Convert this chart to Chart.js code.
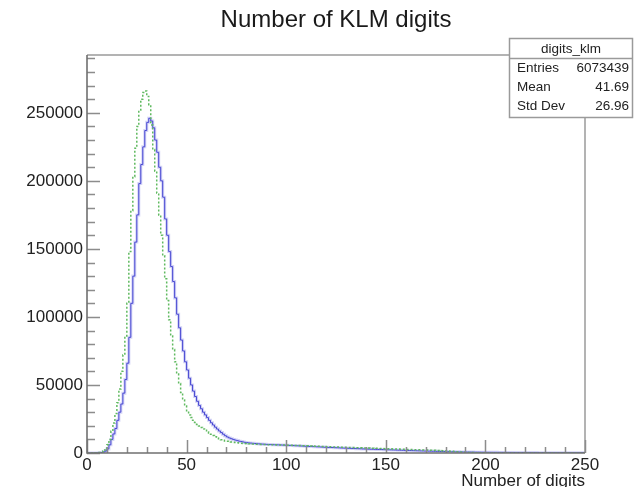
<!DOCTYPE html>
<html>
<head>
<meta charset="utf-8">
<script src="https://cdn.jsdelivr.net/npm/chart.js@4.4.1/dist/chart.umd.min.js"></script>
<style>
  html, body { margin: 0; padding: 0; background: #ffffff; }
  #wrap { width: 640px; height: 487px; }
</style>
</head>
<body>
<div id="wrap"><canvas id="c" width="640" height="487"></canvas></div>
<script>
// ---- Data ----
const binLow = 0;
const binWidth = 1;
const xMin = 0, xMax = 250;
const yMin = 0, yMax = 292500;
const xTickValues = [0, 50, 100, 150, 200, 250];
const yTickValues = [0, 50000, 100000, 150000, 200000, 250000];

const titleText = "Number of KLM digits";
const xAxisTitle = "Number of digits";
const statsName = "digits_klm";
const statsLabels = ["Entries", "Mean", "Std Dev"];
const statsValues = ["6073439", "41.69", "26.96"];

// blue solid histogram (digits_klm), one value per bin
const blueCounts = [
  0, 0, 0, 0, 0, 50, 150, 300, 700, 1500,
  3000, 6000, 10000, 14000, 18000, 24000, 30000, 36000, 44000, 54000,
  66000, 85000, 110000, 130000, 155000, 175000, 198000, 212000, 225000, 237000,
  243000, 246000, 244000, 239000, 230000, 221000, 210000, 200000, 188000, 172000,
  160000, 148000, 137000, 126000, 114000, 102000, 92000, 83000, 75000, 67000,
  61000, 55000, 50000, 45500, 41500, 38000, 35000, 32500, 30000, 28000,
  26000, 24000, 22200, 20600, 19000, 17600, 16200, 15000, 13800, 12700,
  11800, 11100, 10500, 10000, 9500, 9100, 8700, 8400, 8100, 7800,
  7600, 7400, 7250, 7100, 6950, 6800, 6700, 6600, 6500, 6400,
  6300, 6250, 6200, 6100, 6050, 6000, 5950, 5900, 5800, 5750,
  5700, 5600, 5550, 5450, 5400, 5300, 5250, 5150, 5100, 5000,
  4950, 4850, 4800, 4700, 4650, 4550, 4500, 4400, 4350, 4250,
  4200, 4100, 4050, 4000, 3900, 3850, 3800, 3700, 3650, 3600,
  3500, 3450, 3400, 3350, 3250, 3200, 3150, 3100, 3000, 2950,
  2900, 2850, 2800, 2750, 2700, 2650, 2600, 2550, 2500, 2450,
  2400, 2350, 2300, 2250, 2200, 2150, 2100, 2050, 2000, 1950,
  1900, 1850, 1800, 1750, 1700, 1650, 1600, 1550, 1500, 1450,
  1400, 1380, 1340, 1300, 1260, 1220, 1180, 1140, 1100, 1060,
  1020, 990, 960, 930, 900, 870, 840, 810, 780, 750,
  720, 700, 680, 660, 640, 620, 600, 580, 560, 540,
  520, 500, 490, 480, 470, 460, 450, 440, 430, 420,
  410, 400, 390, 380, 370, 360, 350, 340, 330, 320,
  310, 300, 295, 290, 285, 280, 275, 270, 265, 260,
  255, 250, 245, 240, 235, 230, 225, 220, 215, 210,
  205, 200, 195, 190, 185, 180, 175, 170, 165, 160
];

// green dotted histogram, one value per bin
const greenCounts = [
  0, 0, 0, 0, 50, 150, 300, 700, 1500, 3000,
  6000, 10000, 16000, 22000, 29000, 37000, 47000, 60000, 72000, 86000,
  110000, 148000, 178000, 203000, 224000, 240000, 252000, 260000, 265000, 266000,
  262000, 256000, 241000, 223000, 207000, 191000, 175000, 160000, 145000, 128000,
  112000, 98000, 86000, 76000, 67000, 58000, 51000, 44500, 39000, 34500,
  31000, 28000, 26000, 24000, 22500, 21000, 19800, 18700, 17700, 16700,
  15700, 14700, 13700, 12800, 11900, 11100, 10400, 9800, 9300, 8900,
  8600, 8300, 8100, 7900, 7700, 7500, 7350, 7200, 7050, 6950,
  6850, 6750, 6650, 6550, 6450, 6400, 6350, 6300, 6250, 6200,
  6150, 6100, 6050, 6000, 5980, 5950, 5920, 5880, 5850, 5800,
  5750, 5700, 5650, 5600, 5550, 5500, 5450, 5400, 5350, 5300,
  5250, 5200, 5150, 5100, 5000, 4950, 4900, 4850, 4800, 4700,
  4650, 4600, 4550, 4500, 4450, 4400, 4350, 4300, 4250, 4200,
  4150, 4100, 4050, 4000, 3950, 3900, 3850, 3800, 3750, 3700,
  3650, 3600, 3550, 3500, 3450, 3400, 3350, 3300, 3250, 3200,
  3150, 3100, 3050, 3000, 2950, 2900, 2850, 2800, 2750, 2700,
  2650, 2600, 2550, 2500, 2450, 2400, 2350, 2300, 2250, 2200,
  2150, 2100, 2050, 2000, 1950, 1900, 1850, 1800, 1700, 1600,
  1500, 1400, 1300, 1200, 1100, 1000, 900, 800, 700, 600,
  500, 450, 400, 350, 300, 250, 200, 150, 120, 100,
  80, 60, 50, 40, 35, 30, 25, 20, 20, 15,
  15, 10, 10, 10, 10, 5, 5, 5, 5, 5,
  5, 0, 0, 0, 0, 0, 0, 0, 0, 0,
  0, 0, 0, 0, 0, 0, 0, 0, 0, 0,
  0, 0, 0, 0, 0, 0, 0, 0, 0, 0
];

// ---- Build step points from bins ----
function toSteps(counts) {
  const pts = counts.map((v, i) => ({ x: binLow + i * binWidth, y: v }));
  pts.push({ x: binLow + counts.length * binWidth, y: counts[counts.length - 1] });
  return pts;
}

const FONT = "'Liberation Sans', Arial, Helvetica, sans-serif";

const decorPlugin = {
  id: 'decor',
  afterDraw(chart) {
    const { ctx, chartArea: a, scales } = chart;
    const xs = scales.x, ys = scales.y;
    ctx.save();
    // frame top & right
    ctx.strokeStyle = '#9a9a9a';
    ctx.lineWidth = 1.5;
    ctx.beginPath();
    ctx.moveTo(a.left, a.top); ctx.lineTo(a.right, a.top); ctx.lineTo(a.right, a.bottom);
    ctx.stroke();
    // ticks (inside)
    ctx.strokeStyle = '#8c8c8c';
    ctx.lineWidth = 1.5;
    ctx.beginPath();
    for (let v = xMin; v <= xMax; v += 10) {
      const px = Math.round(xs.getPixelForValue(v)) + 0.5;
      const len = (v % 50 === 0) ? 13 : 6;
      ctx.moveTo(px, a.bottom); ctx.lineTo(px, a.bottom - len);
    }
    for (let v = yMin; v <= yMax; v += 10000) {
      const py = Math.round(ys.getPixelForValue(v)) + 0.5;
      const len = (v % 50000 === 0) ? 13 : 8;
      ctx.moveTo(a.left, py); ctx.lineTo(a.left + len, py);
    }
    ctx.stroke();
    // axis lines
    ctx.strokeStyle = '#707070';
    ctx.lineWidth = 1.6;
    ctx.beginPath();
    ctx.moveTo(a.left, a.top); ctx.lineTo(a.left, a.bottom); ctx.lineTo(a.right, a.bottom);
    ctx.stroke();

    // title
    ctx.fillStyle = '#1a1a1a';
    ctx.font = '24px ' + FONT;
    ctx.textAlign = 'center';
    ctx.textBaseline = 'alphabetic';
    ctx.fillText(titleText, (a.left + a.right) / 2, 27);

    // x axis title
    ctx.font = '17px ' + FONT;
    ctx.textAlign = 'right';
    ctx.fillStyle = '#222';
    ctx.fillText(xAxisTitle, a.right, 486);

    // stats box
    const bx = 509.5, by = 38.5, bw = 123, bh = 79;
    ctx.fillStyle = '#ffffff';
    ctx.fillRect(bx, by, bw, bh);
    ctx.strokeStyle = '#9a9a9a';
    ctx.lineWidth = 1.5;
    ctx.strokeRect(bx, by, bw, bh);
    ctx.beginPath();
    ctx.moveTo(bx, 58.5); ctx.lineTo(bx + bw, 58.5);
    ctx.stroke();
    ctx.fillStyle = '#222';
    ctx.font = '13.5px ' + FONT;
    ctx.textAlign = 'center';
    ctx.fillText(statsName, bx + bw / 2, 53);
    const rowY = [72, 91, 110];
    statsLabels.forEach((lab, i) => {
      ctx.textAlign = 'left';
      ctx.fillText(lab, 517, rowY[i]);
      ctx.textAlign = 'right';
      ctx.fillText(statsValues[i], 629, rowY[i]);
    });
    ctx.restore();
  }
};

new Chart(document.getElementById('c'), {
  type: 'line',
  data: {
    datasets: [
      {
        label: 'band',
        data: toSteps(blueCounts),
        stepped: true,
        borderColor: 'rgba(160,160,235,0.45)',
        borderWidth: 3,
        pointRadius: 0,
        fill: false,
        order: 3
      },
      {
        label: 'digits_klm',
        data: toSteps(blueCounts),
        stepped: true,
        borderColor: 'rgb(70,70,210)',
        borderWidth: 1,
        pointRadius: 0,
        fill: false,
        order: 2
      },
      {
        label: 'green',
        data: toSteps(greenCounts),
        stepped: true,
        borderColor: 'rgb(95,185,95)',
        borderWidth: 1.5,
        borderDash: [2, 2],
        pointRadius: 0,
        fill: false,
        order: 1
      }
    ]
  },
  options: {
    responsive: false,
    animation: false,
    devicePixelRatio: 1,
    layout: { padding: { top: 55, right: 55, left: 0, bottom: 0 } },
    plugins: { legend: { display: false }, tooltip: { enabled: false }, title: { display: false } },
    scales: {
      x: {
        type: 'linear',
        min: xMin, max: xMax,
        afterFit(s) { s.height = 34; },
        afterBuildTicks(s) { s.ticks = xTickValues.map(v => ({ value: v })); },
        ticks: { font: { family: FONT, size: 17 }, color: '#222', padding: 2, maxRotation: 0, autoSkip: false,
                 callback: v => String(v) },
        grid: { display: false, drawTicks: false },
        border: { display: false }
      },
      y: {
        type: 'linear',
        min: yMin, max: yMax,
        afterFit(s) { s.width = 87; },
        afterBuildTicks(s) { s.ticks = yTickValues.map(v => ({ value: v })); },
        ticks: { font: { family: FONT, size: 17 }, color: '#222', padding: 4, autoSkip: false,
                 callback: v => String(v) },
        grid: { display: false, drawTicks: false },
        border: { display: false }
      }
    }
  },
  plugins: [decorPlugin]
});
</script>
</body>
</html>
